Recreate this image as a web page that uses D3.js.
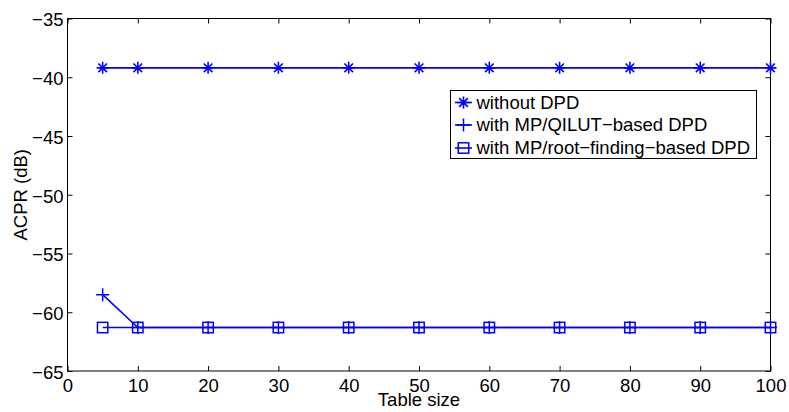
<!DOCTYPE html>
<html><head><meta charset="utf-8">
<script src="https://cdn.jsdelivr.net/npm/d3@7"></script>
<style>body{margin:0;background:#fff}svg{display:block}text{font-family:"Liberation Sans",Arial,sans-serif}</style>
</head><body>
<svg id="c" width="789" height="412"></svg>
<script>
const tableSize = [5, 10, 20, 30, 40, 50, 60, 70, 80, 90, 100];
const withoutDPD = [-39.2, -39.2, -39.2, -39.2, -39.2, -39.2, -39.2, -39.2, -39.2, -39.2, -39.2];
const qilutDPD = [-58.5, -61.3, -61.3, -61.3, -61.3, -61.3, -61.3, -61.3, -61.3, -61.3, -61.3];
const rootDPD = [-61.3, -61.3, -61.3, -61.3, -61.3, -61.3, -61.3, -61.3, -61.3, -61.3, -61.3];
const xTicks = [0, 10, 20, 30, 40, 50, 60, 70, 80, 90, 100];
const yTicks = [-65, -60, -55, -50, -45, -40, -35];
const seriesNames = ["without DPD", "with MP/QILUT\u2212based DPD", "with MP/root\u2212finding\u2212based DPD"];
const markers = ["star", "plus", "square"];

const color = "#0000ff";
const FS = 18.5;
const svg = d3.select("#c");
const L = 67.5, R = 770.5, T = 18.5, B = 371;
const x = d3.scaleLinear().domain([0, 100]).range([L, R]);
const y = d3.scaleLinear().domain([-65, -35]).range([B, T]);

svg.append("rect").attr("x", L).attr("y", T).attr("width", R - L).attr("height", B - T)
  .attr("fill", "none").attr("stroke", "#000").attr("stroke-width", 1);

const fmt = d => (d < 0 ? "\u2212" + Math.abs(d) : "" + d);
const gx = svg.append("g").attr("transform", `translate(0,${B})`)
  .call(d3.axisBottom(x).tickValues(xTicks).tickSizeInner(-5).tickSizeOuter(0).tickFormat(d => d));
const gxTop = svg.append("g").attr("transform", `translate(0,${T})`)
  .call(d3.axisTop(x).tickValues(xTicks).tickSizeInner(-5).tickSizeOuter(0).tickFormat(""));
const gy = svg.append("g").attr("transform", `translate(${L},0)`)
  .call(d3.axisLeft(y).tickValues(yTicks).tickSizeInner(-5).tickSizeOuter(0).tickPadding(4).tickFormat(fmt));
const gyR = svg.append("g").attr("transform", `translate(${R},0)`)
  .call(d3.axisRight(y).tickValues(yTicks).tickSizeInner(-5).tickSizeOuter(0).tickFormat(""));
[gx, gxTop, gy, gyR].forEach(g => {
  g.select(".domain").remove();
  g.selectAll("line").attr("stroke", "#000");
  g.selectAll("text").attr("font-size", FS).attr("fill", "#000").attr("font-family", '"Liberation Sans",Arial,sans-serif');
});
gx.selectAll("text").attr("y", 20.5).attr("dy", 0);
gy.selectAll("text").attr("dy", "0.4em");

svg.append("text").attr("x", (L + R) / 2).attr("y", 406).attr("text-anchor", "middle")
  .attr("font-size", FS).text("Table size");
svg.append("text").attr("transform", `translate(27,${(T + B) / 2}) rotate(-90)`).attr("text-anchor", "middle")
  .attr("font-size", FS).text("ACPR (dB)");

function drawMarker(g, type, cx, cy) {
  if (type === "star") {
    const r = 6, d = r * 0.72;
    g.append("path").attr("d", `M${cx - r},${cy}H${cx + r}M${cx},${cy - r}V${cy + r}M${cx - d},${cy - d}L${cx + d},${cy + d}M${cx - d},${cy + d}L${cx + d},${cy - d}`)
      .attr("stroke", color).attr("stroke-width", 1.6).attr("fill", "none");
  } else if (type === "plus") {
    const r = 6.5;
    g.append("path").attr("d", `M${cx - r},${cy}H${cx + r}M${cx},${cy - r}V${cy + r}`)
      .attr("stroke", color).attr("stroke-width", 1.5).attr("fill", "none");
  } else {
    const r = 5.2;
    g.append("rect").attr("x", cx - r).attr("y", cy - r).attr("width", 2 * r).attr("height", 2 * r)
      .attr("stroke", color).attr("stroke-width", 1.5).attr("fill", "none");
  }
}

const allSeries = [withoutDPD, qilutDPD, rootDPD];
const line = d3.line().x((d, i) => x(tableSize[i])).y(d => y(d));
allSeries.forEach((vals, k) => {
  const g = svg.append("g");
  g.append("path").datum(vals).attr("d", line).attr("fill", "none").attr("stroke", color).attr("stroke-width", 1.6);
  vals.forEach((v, i) => drawMarker(g, markers[k], x(tableSize[i]), y(v)));
});

const lg = svg.append("g");
lg.append("rect").attr("x", 450.5).attr("y", 90.5).attr("width", 306).attr("height", 68)
  .attr("fill", "#fff").attr("stroke", "#000").attr("stroke-width", 1);
const rowY = [102.5, 125, 148];
seriesNames.forEach((name, k) => {
  lg.append("line").attr("x1", 455).attr("x2", 472).attr("y1", rowY[k]).attr("y2", rowY[k])
    .attr("stroke", color).attr("stroke-width", 1.6);
  drawMarker(lg, markers[k], 463.5, rowY[k]);
  lg.append("text").attr("x", 476.5).attr("y", rowY[k]).attr("dy", "0.35em").attr("font-size", FS).text(name);
});
</script>
</body></html>
